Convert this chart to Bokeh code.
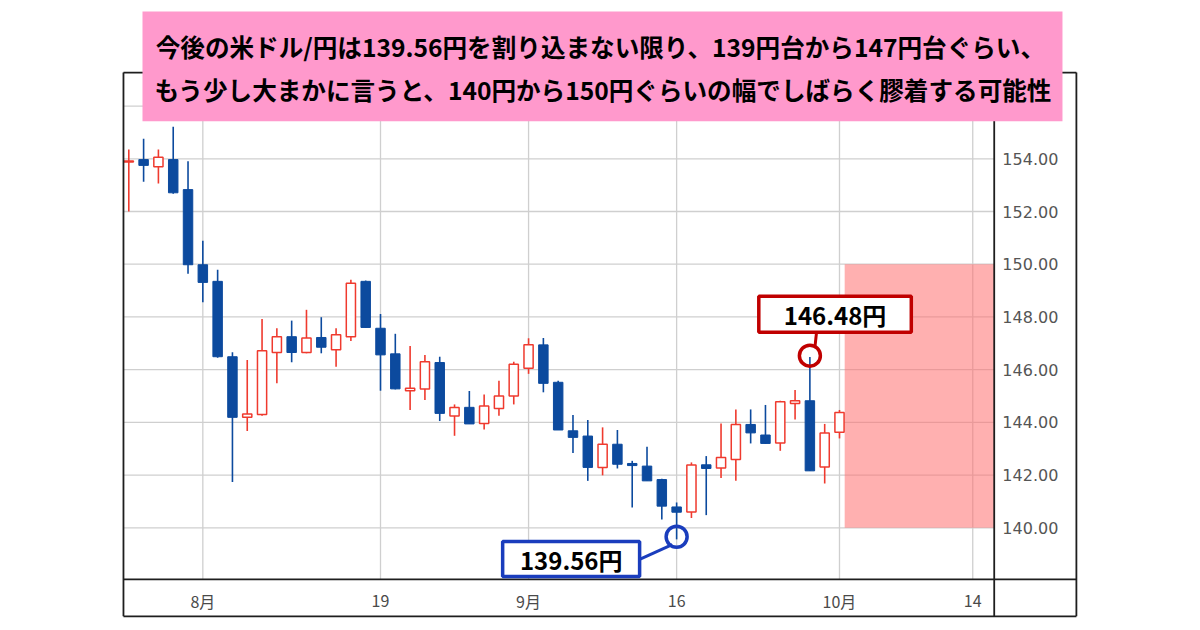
from bokeh.plotting import figure
from bokeh.models import ColumnDataSource
from bokeh.core.properties import value
from bokeh.embed import file_html
from bokeh.resources import INLINE

# ---- data (daily USD/JPY candles) ----
opens = [153.88, 153.97, 153.70, 153.97, 152.83, 149.98, 149.35, 146.49, 144.19, 144.30,
         146.65, 147.25, 146.65, 147.22, 146.75, 147.25, 149.35, 147.57, 146.60, 145.20,
         145.27, 146.27, 144.24, 144.57, 143.96, 144.53, 145.00, 146.05, 146.94, 145.52,
         143.68, 143.48, 142.29, 143.17, 142.44, 142.34, 141.83, 140.79, 140.60, 142.39,
         142.27, 142.59, 143.92, 143.52, 143.22, 144.72, 144.82, 142.31, 143.62]
highs = [154.35, 154.76, 154.35, 155.22, 153.91, 150.89, 149.79, 146.66, 146.37, 147.92,
         147.57, 147.86, 148.27, 147.99, 147.57, 149.41, 149.38, 148.11, 147.36, 146.90,
         146.56, 146.49, 144.68, 145.19, 145.06, 145.58, 146.30, 147.19, 147.20, 145.58,
         144.28, 144.09, 143.81, 143.71, 142.54, 143.07, 141.86, 140.96, 142.48, 142.72,
         143.96, 144.49, 144.49, 144.66, 144.82, 145.23, 146.48, 143.94, 144.47]
lows = [152.00, 153.13, 153.06, 152.67, 149.64, 148.56, 146.45, 141.74, 143.67, 144.25,
        145.48, 146.28, 146.62, 146.62, 146.11, 147.09, 147.58, 145.20, 145.25, 144.47,
        144.85, 144.05, 143.49, 143.94, 143.73, 144.25, 144.68, 145.84, 145.14, 143.71,
        142.84, 141.78, 141.99, 142.25, 140.77, 141.78, 140.31, 139.56, 140.37, 140.48,
        141.89, 141.78, 143.20, 143.18, 142.92, 144.11, 142.15, 141.68, 143.39]
closes = [153.92, 153.75, 154.06, 152.71, 149.98, 149.31, 146.49, 144.19, 144.32, 146.72,
          147.25, 146.65, 147.20, 146.85, 147.32, 149.28, 147.60, 146.56, 145.27, 145.29,
          146.30, 144.34, 144.56, 143.94, 144.62, 145.00, 146.20, 146.94, 145.48, 143.71,
          143.43, 142.29, 143.17, 142.41, 142.36, 141.78, 140.82, 140.59, 142.38, 142.25,
          142.67, 143.92, 143.60, 143.20, 144.78, 144.82, 142.16, 143.60, 144.37]

x_tick_pos = [5, 17, 27, 37, 48, 57]
x_tick_labels = ["8月", "19", "9月", "16", "10月", "14"]
y_ticks = [140, 142, 144, 146, 148, 150, 152, 154, 156]
band_low, band_high = 140, 150

title_lines = ["今後の米ドル/円は139.56円を割り込まない限り、139円台から147円台ぐらい、",
               "もう少し大まかに言うと、140円から150円ぐらいの幅でしばらく膠着する可能性"]

low_idx, low_val = 37, 139.56
high_idx, high_val = 46, 146.48

# ---- layout (data units of the candle scale) ----
PX0, PX1, OX1 = -0.36, 58.45, 64.0          # plot left, plot right, outer right
PY0, PY1, OY0 = 138.04, 157.27, 136.64      # plot bottom, plot top, outer bottom
BLUE = "#0c4a9e"
RED = "#ef3a2e"
FRAME = "#1e1e1e"
CJK = "Noto Sans CJK JP"

idx = list(range(len(opens)))
up = dict(x=[], lo=[], hi=[], top=[], bot=[])
dn = dict(x=[], lo=[], hi=[], top=[], bot=[])
for i, o, h, l, c in zip(idx, opens, highs, lows, closes):
    d = up if c >= o else dn
    d["x"].append(i); d["lo"].append(l); d["hi"].append(h)
    d["top"].append(max(o, c)); d["bot"].append(min(o, c))
up_src = ColumnDataSource(up)
dn_src = ColumnDataSource(dn)

p = figure(frame_width=960, frame_height=612,
           min_border_left=119, min_border_top=7, min_border_right=0, min_border_bottom=0,
           x_range=(-0.628, 64.21), y_range=(136.52, 159.74),
           x_axis_type=None, y_axis_type=None,
           output_backend="svg", toolbar_location=None,
           background_fill_color="white", border_fill_color="white")
p.outline_line_color = None
p.grid.visible = False

# grid lines (from tick lists)
p.segment(x0=[PX0] * len(y_ticks), x1=[PX1] * len(y_ticks), y0=y_ticks, y1=y_ticks,
          line_color="#cfcfcf", line_width=1.3)
p.segment(x0=x_tick_pos, x1=x_tick_pos, y0=[PY0] * len(x_tick_pos), y1=[PY1] * len(x_tick_pos),
          line_color="#cfcfcf", line_width=1.3)

# forecast band
p.quad(left=[48.35], right=[PX1], bottom=[band_low], top=[band_high],
       fill_color="#ff7070", fill_alpha=0.55, line_color=None)

# candles
p.segment(x0="x", y0="lo", x1="x", y1="hi", source=dn_src, line_color=BLUE, line_width=1.6)
p.segment(x0="x", y0="lo", x1="x", y1="hi", source=up_src, line_color=RED, line_width=1.6)
p.vbar(x="x", width=0.64, top="top", bottom="bot", source=dn_src,
       fill_color=BLUE, line_color=BLUE, line_width=1)
p.vbar(x="x", width=0.62, top="top", bottom="bot", source=up_src,
       fill_color="white", line_color=RED, line_width=1.5)

# axis tick labels (price column on the right, dates below)
p.text(x=[59.0] * len(y_ticks), y=y_ticks, text=[f"{t:.2f}" for t in y_ticks],
       text_font=value("DejaVu Sans"), text_font_size="16px", text_color="#555555",
       text_align="left", text_baseline="middle")
p.text(x=x_tick_pos, y=[137.24] * len(x_tick_pos), text=x_tick_labels,
       text_font=value(CJK), text_font_size="16px", text_color="#4a4a4a",
       text_align="center", text_baseline="middle")

# chart frame: outer box, plot box, axis separators
p.segment(x0=[PX0, PX0, PX0, PX0, OX1, PX1],
          x1=[OX1, OX1, OX1, PX0, OX1, PX1],
          y0=[PY1, PY0, OY0, OY0, OY0, OY0],
          y1=[PY1, PY0, OY0, PY1, PY1, PY1],
          line_color=FRAME, line_width=1.8)

# high annotation
p.segment(x0=[high_idx + 0.35], y0=[high_val + 0.42], x1=[high_idx + 0.45], y1=[high_val + 0.94],
          line_color="#c00000", line_width=3)
p.scatter(x=[high_idx], y=[high_val + 0.05], marker="circle", size=21,
          fill_color=None, line_color="#c00000", line_width=3.5)
p.quad(left=[42.55], right=[52.85], bottom=[high_val + 0.94], top=[high_val + 2.3],
       fill_color="white", line_color="#c00000", line_width=3.5)
p.text(x=[47.7], y=[high_val + 1.62], text=[f"{high_val:.2f}円"],
       text_font=value(CJK), text_font_style="bold", text_font_size="24px",
       text_align="center", text_baseline="middle", text_color="black")

# low annotation
p.segment(x0=[34.5], y0=[138.8], x1=[36.7], y1=[low_val - 0.2],
          line_color="#1a3dbd", line_width=3)
p.scatter(x=[low_idx], y=[low_val + 0.1], marker="circle", size=21,
          fill_color=None, line_color="#1a3dbd", line_width=3.5)
p.quad(left=[25.25], right=[34.5], bottom=[138.15], top=[139.48],
       fill_color="white", line_color="#1a3dbd", line_width=3.5)
p.text(x=[29.88], y=[138.8], text=[f"{low_val:.2f}円"],
       text_font=value(CJK), text_font_style="bold", text_font_size="24px",
       text_align="center", text_baseline="middle", text_color="black")

# title box and text
p.quad(left=[0.925], right=[63.06], bottom=[155.42], top=[159.59],
       fill_color="#ff99cc", line_color=None)
p.text(x=[31.85, 32.05], y=[158.27, 156.66], text=title_lines,
       text_font=value(CJK), text_font_style="bold", text_font_size="24.6px",
       text_align="center", text_baseline="middle", text_color="black")

open("out.html", "w").write(file_html(p, INLINE))
